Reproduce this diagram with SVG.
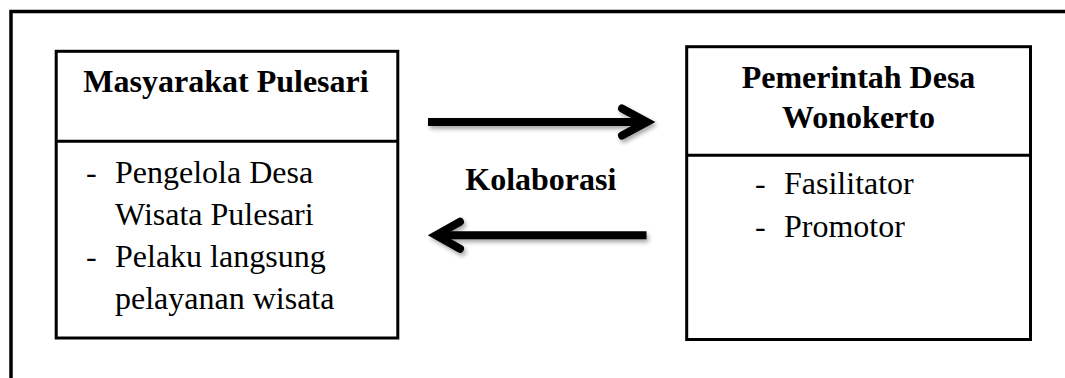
<svg xmlns="http://www.w3.org/2000/svg" width="1065" height="378" viewBox="0 0 1065 378">
  <style>
    .frame { fill: none; stroke: #000; stroke-width: 3.5; }
    .box { fill: #fff; stroke: #000; stroke-width: 3; }
    .div { stroke: #000; stroke-width: 3; }
    .title { font-family: "Liberation Serif", "Times New Roman", serif; font-size: 32px; font-weight: bold; fill: #000; }
    .item { font-family: "Liberation Serif", "Times New Roman", serif; font-size: 32px; fill: #000; }
    .shaft { fill: none; stroke: #000; stroke-width: 8; stroke-linecap: butt; }
    .head { fill: none; stroke: #000; stroke-width: 8; stroke-linecap: round; stroke-linejoin: miter; stroke-miterlimit: 10; }
  </style>
  <defs>
    <filter id="shadow" x="-10%" y="-30%" width="120%" height="180%">
      <feGaussianBlur in="SourceAlpha" stdDeviation="2"/>
      <feOffset dx="1.5" dy="3" result="blur"/>
      <feComponentTransfer><feFuncA type="linear" slope="0.35"/></feComponentTransfer>
      <feMerge><feMergeNode/><feMergeNode in="SourceGraphic"/></feMerge>
    </filter>
  </defs>

  <rect width="1065" height="378" fill="#fff"/>

  <!-- outer frame: only top and left edges fall inside the canvas -->
  <path class="frame" d="M 11 378 L 11 11.5 L 1065 11.5"/>

  <!-- left node -->
  <g id="masyarakat-pulesari">
    <rect class="box" x="56.2" y="51.3" width="341.6" height="286.7"/>
    <line class="div" x1="56.2" y1="141.3" x2="397.8" y2="141.3"/>
    <text class="title" x="226" y="92" text-anchor="middle">Masyarakat Pulesari</text>
    <text class="item" x="86" y="182.5">-</text>
    <text class="item" x="115" y="182.5">Pengelola Desa</text>
    <text class="item" x="115" y="224.5">Wisata Pulesari</text>
    <text class="item" x="86" y="266.5">-</text>
    <text class="item" x="115" y="266.5">Pelaku langsung</text>
    <text class="item" x="115" y="308.5">pelayanan wisata</text>
  </g>

  <!-- right node -->
  <g id="pemerintah-desa-wonokerto">
    <rect class="box" x="686.7" y="46.7" width="343.8" height="292.8"/>
    <line class="div" x1="686.7" y1="155.3" x2="1030.5" y2="155.3"/>
    <text class="title" x="858.5" y="88" text-anchor="middle">Pemerintah Desa</text>
    <text class="title" x="858.5" y="128.3" text-anchor="middle">Wonokerto</text>
    <text class="item" x="755" y="193.5">-</text>
    <text class="item" x="784" y="193.5">Fasilitator</text>
    <text class="item" x="755" y="237">-</text>
    <text class="item" x="784" y="237">Promotor</text>
  </g>

  <!-- connectors -->
  <g id="connectors" filter="url(#shadow)">
    <line class="shaft" x1="428" y1="122" x2="648" y2="122"/>
    <polyline class="head" points="622,108.5 647,122 622,135.5"/>
    <line class="shaft" x1="646.5" y1="235.3" x2="436" y2="235.3"/>
    <polyline class="head" points="460,221.8 436,235.3 460,248.8"/>
  </g>

  <text id="kolaborasi" class="title" x="540.8" y="190" text-anchor="middle">Kolaborasi</text>
</svg>
